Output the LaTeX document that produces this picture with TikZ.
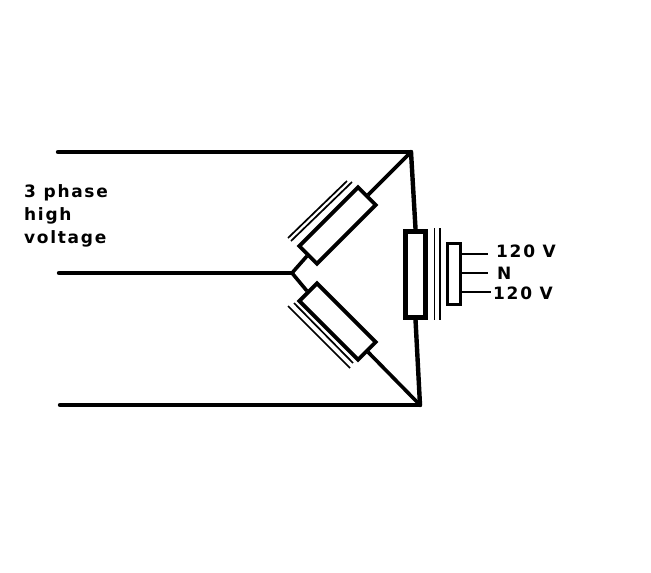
\documentclass[tikz,border=0pt]{standalone}
\usepackage{fontspec}
\newfontfamily\labelfont[LetterSpace=10]{DejaVu Sans Bold}
\tikzset{
	x=1pt,
	y=-1pt,
	wire/.style={line width=4.4pt, line cap=round},
	lead/.style={line width=3.6pt},
	tap/.style={line width=2.6pt},
	core/.style={line width=1.7pt},
	coil/.style={draw, line width=3.8pt, fill=white, inner sep=0pt, minimum width=83pt, minimum height=25pt},
	main/.style={draw, line width=5pt, fill=white, inner sep=0pt, minimum width=86pt, minimum height=19.5pt, rotate=90},
	second/.style={draw, line width=2.6pt, fill=white, inner sep=0pt, minimum width=13pt, minimum height=61pt},
	txt/.style={font=\labelfont\fontsize{17}{23}\selectfont, inner sep=0pt, anchor=west},
}

\begin{document}
\begin{tikzpicture}
      \useasboundingbox (0,0) rectangle (651,573);

      % line ends and corners
      \coordinate (a) at (58,152);
      \coordinate (b) at (59,273);
      \coordinate (c) at (60,405);
      \coordinate (topc) at (411,152);
      \coordinate (botc) at (420,405);
      \coordinate (star) at (292,273);

      % the three coils
      \node[coil, rotate=45] (up) at (337.5,225.5) {};
      \node[coil, rotate=-45] (low) at (337.5,321.5) {};
      \node[main] (side) at (415.5,274) {};
      \node[second] (sec) at (454,274) {};

      % text
      \node[txt] (hv1) at (24,193) {3 phase};
      \node[txt] (hv2) at (24,216) {high};
      \node[txt] (hv3) at (24,239) {voltage};
      \node[txt] (v1) at (496,251) {120 V};
      \node[txt] (n) at (497,273) {N};
      \node[txt] (v2) at (493,293) {120 V};

      % wires
      \draw[wire] (a) -- (topc);
      \draw[wire] (b) -- (star);
      \draw[wire] (c) -- (botc);
      \draw[lead] (star) -- (up.west);
      \draw[lead] (star) -- (low.west);
      \draw[lead] (up.east) -- (topc);
      \draw[lead] (low.east) -- (botc);
      \draw[wire] (topc) -- (side.east);
      \draw[wire] (side.west) -- (botc);

      % outputs
      \coordinate (e1) at (488,254);
      \coordinate (e2) at (488,273);
      \coordinate (e3) at (491,292);
      \draw[tap] (sec.east |- e1) -- (e1);
      \draw[tap] (sec.east |- e2) -- (e2);
      \draw[tap] (sec.east |- e3) -- (e3);

      % iron cores
      \coordinate (u1) at (288,238);
      \coordinate (u2) at (347,181);
      \coordinate (u3) at (291,241);
      \coordinate (u4) at (352,182);
      \coordinate (l1) at (288,306);
      \coordinate (l2) at (350,368);
      \coordinate (l3) at (294,303);
      \coordinate (l4) at (353,363);
      \coordinate (s1) at (434.5,228);
      \coordinate (s2) at (434.5,320);
      \coordinate (s3) at (440,228);
      \coordinate (s4) at (440,320);
      \draw[core] (u1) -- (u2);
      \draw[core] (u3) -- (u4);
      \draw[core] (l1) -- (l2);
      \draw[core] (l3) -- (l4);
      \draw[core] (s1) -- (s2);
      \draw[core] (s3) -- (s4);
\end{tikzpicture}
\end{document}
